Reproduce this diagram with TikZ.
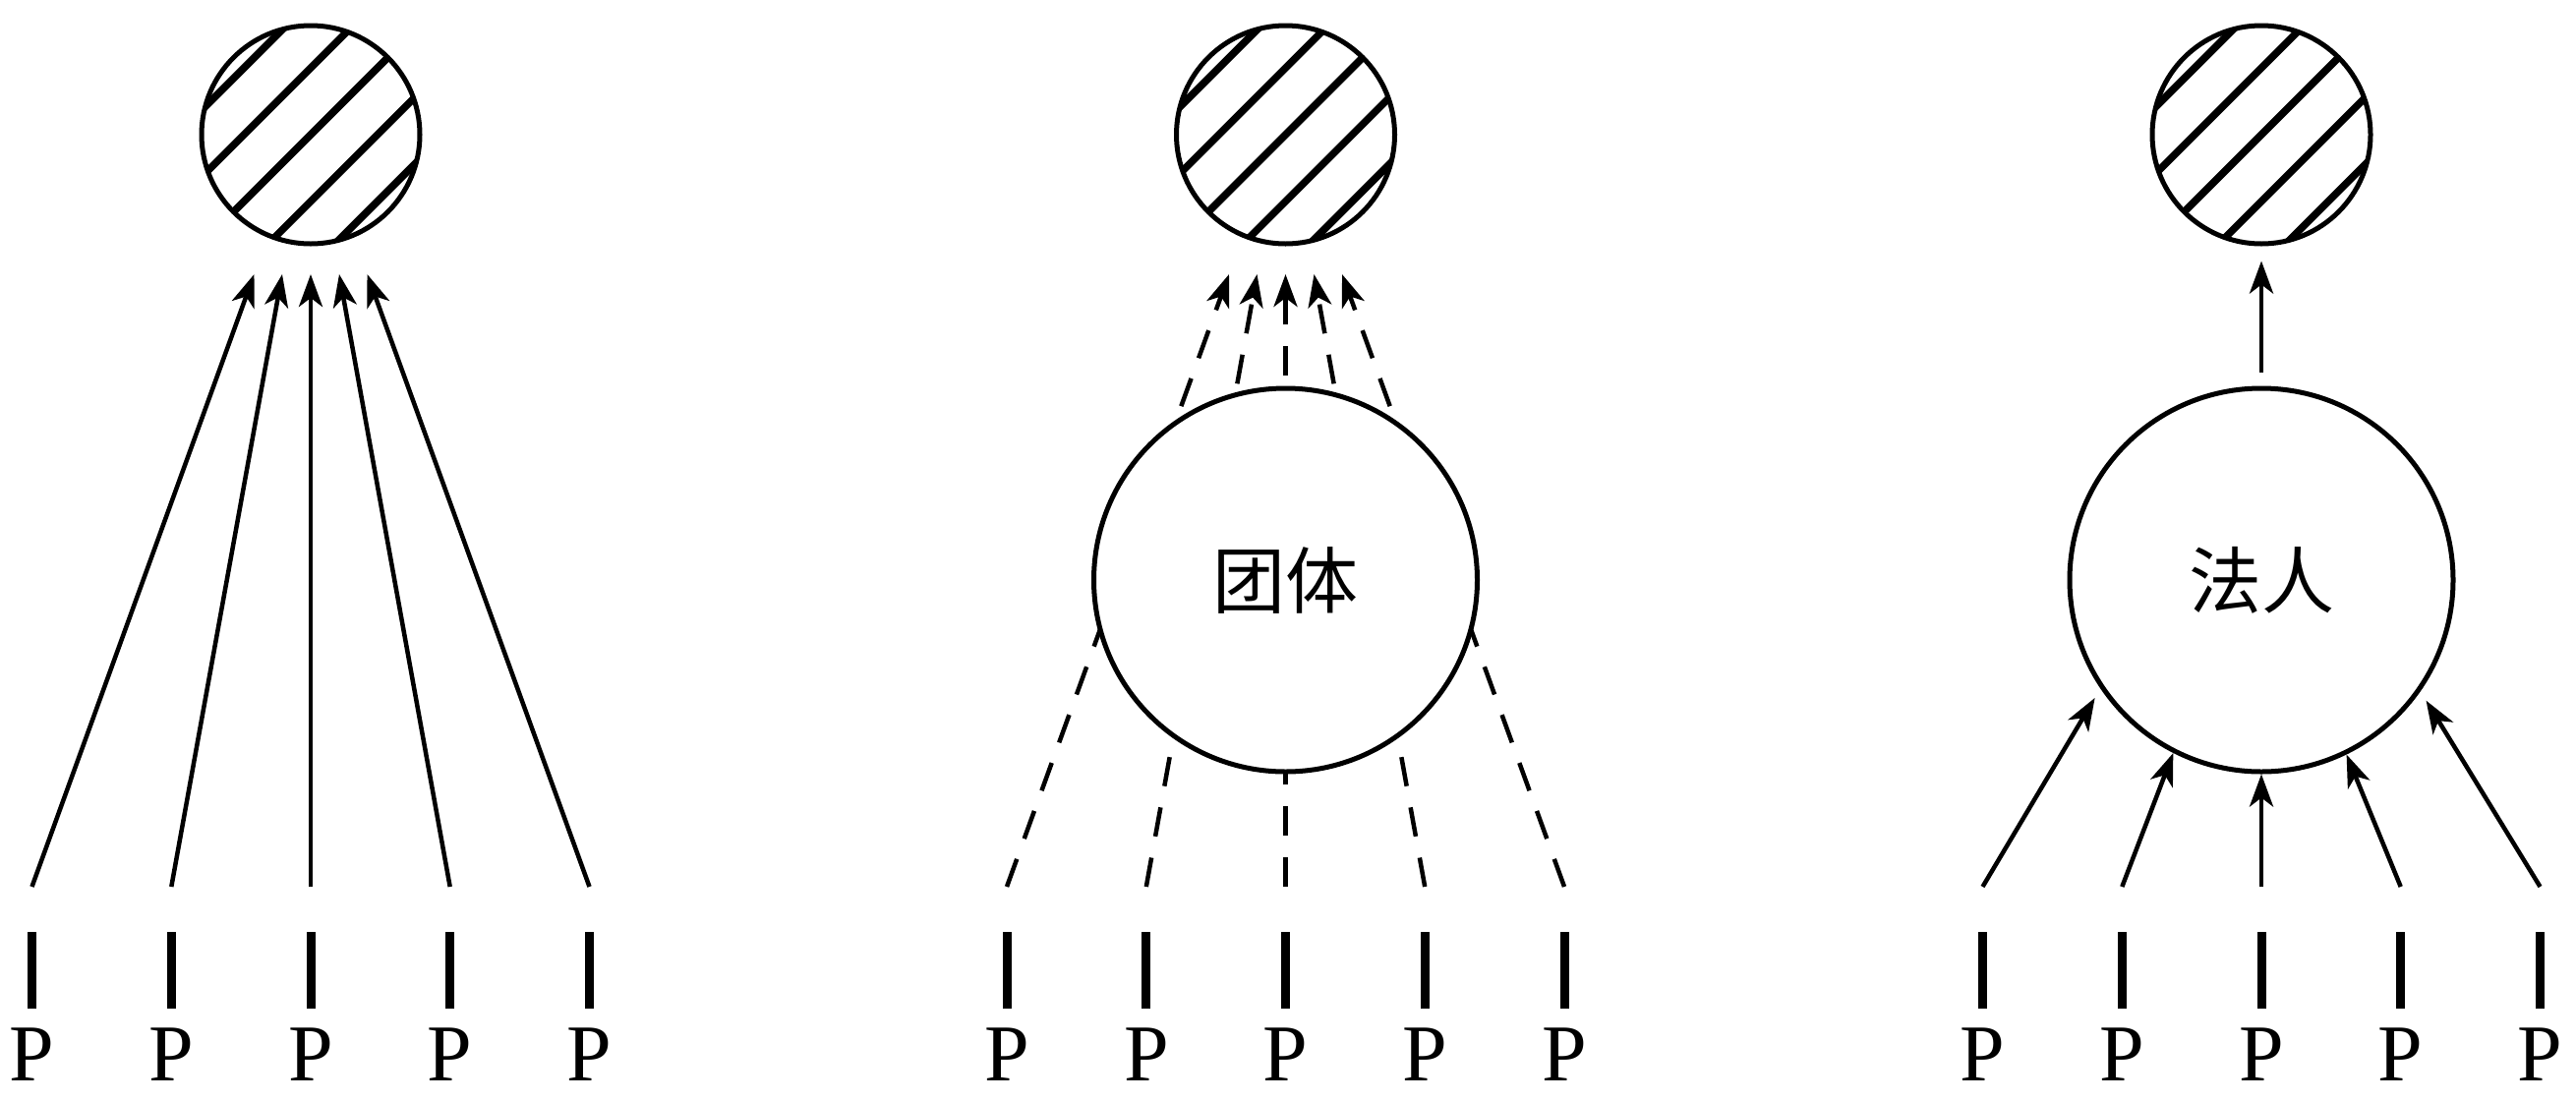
\documentclass[tikz,border=0pt]{standalone}
\usepackage{fontspec}
\setmainfont{Liberation Serif}
\newfontfamily\cjk{Noto Sans CJK SC}
\usetikzlibrary{arrows.meta,calc}
\begin{document}
\begin{tikzpicture}[x=1pt,y=-1pt,
  conn/.style={line width=4.5pt, -{Stealth[length=33pt,width=24pt,inset=9pt]}},
  dashconn/.style={conn, dash pattern=on 30pt off 22pt},
  hatched/.style={circle, draw, line width=5pt, minimum size=222pt, inner sep=0pt,
    path picture={\foreach \d in {-96,-48,0,48,96}{\draw[line width=7.5pt] ($(path picture bounding box.center)+(\d*0.7071-160,\d*0.7071+160)$) -- ++(320,-320);}}},
  bigc/.style={circle, draw, fill=white, line width=5pt, minimum size=390pt, inner sep=0pt, font=\cjk\fontsize{74}{80}\selectfont},
  bar/.style={rectangle, fill=black, minimum width=9pt, minimum height=78pt, inner sep=0pt},
  plabel/.style={anchor=base, inner sep=0pt, font=\fontsize{82}{90}\selectfont}]
\useasboundingbox (0,0) rectangle (2620,1120);

% common parts of the three panels
\foreach \c/\k in {316/1,1307.5/2,2300/3}{
  \node[hatched] (h\k) at (\c,137) {};
  \foreach \i/\o in {1/-283.5,2/-141.7,3/0,4/141.7,5/283.5}{
    \coordinate (s\k\i) at (\c+\o,902);
    \node[bar] (bar\k\i) at (\c+\o,987) {};
    \node[plabel] (P\k\i) at (\c+\o,1099) {P};
  }
  \foreach \i/\o in {1/-57.5,2/-29,3/0,4/29,5/57.5}{
    \coordinate (t\k\i) at (\c+\o,279);
  }
}

% panel 1: direct arrows
\foreach \i in {1,...,5}{
  \draw[conn] (s1\i) -- (t1\i);
}

% panel 2: dashed arrows passing behind the group circle
\foreach \i in {1,...,5}{
  \draw[dashconn] (s2\i) -- (t2\i);
}
\node[bigc] (g2) at (1307.5,590) {团体};

% panel 3: arrows into the legal person, one arrow up
\node[bigc] (g3) at (2300,590) {法人};
\draw[conn, shorten >=11pt] (s31) -- (g3.214.3);
\draw[conn] (s32) -- (g3.243.9);
\draw[conn] (s33) -- (g3.270);
\draw[conn] (s34) -- (g3.296.1);
\draw[conn, shorten >=11pt] (s35) -- (g3.325.7);
\draw[conn, shorten <=14pt, shorten >=15pt] (g3.north) -- (h3.south);
\end{tikzpicture}
\end{document}
